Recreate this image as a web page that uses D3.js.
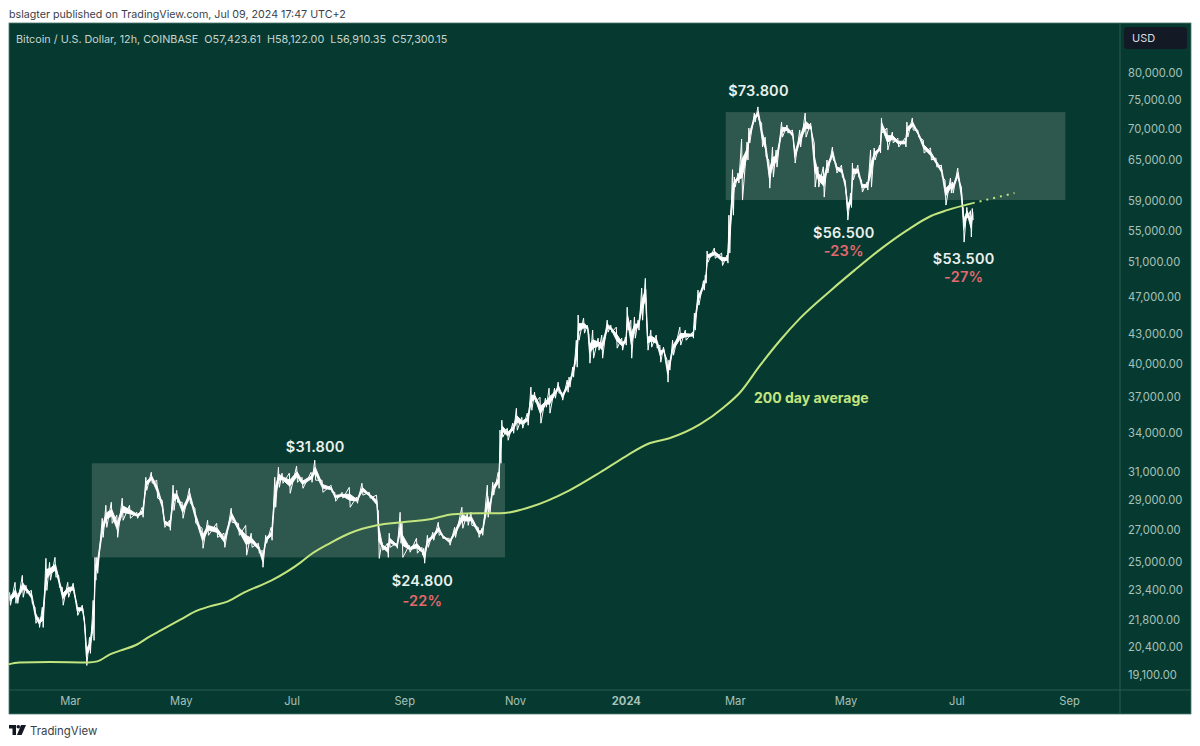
<!DOCTYPE html>
<html>
<head>
<meta charset="utf-8">
<script src="https://cdn.jsdelivr.net/npm/d3@7"></script>
<style>
  html, body { margin: 0; padding: 0; background: #fff; }
  svg { display: block; font-family: Inter, "Liberation Sans", sans-serif; }
</style>
</head>
<body>
<script>
// [days since 1 Mar 2023, low, high]
var btc = [
[-33,22550,23250],[-30,22650,23810],[-29,22650,23200],[-26,22980,24210],[-24,23200,23640],[-21,22650,23360],
[-19,21600,22440],[-17,21390,21900],[-15,21390,22440],[-13,23360,25210],[-11,23930,24970],[-8,24100,25270],
[-6,23530,24210],[-4,22550,23530],[-1,22980,23810],[2,23200,23760],[4,22010,22650],[7,22120,22550],
[8,21390,21900],[9,19540,20740],[11,20110,20890],[13,20740,22810],[14,23930,25270],[15,24330,25270],
[18,26500,27730],[20,27140,28600],[23,27400,28810],[26,26500,27930],[29,27600,29090],[33,27730,28600],
[37,27730,28130],[40,27800,28470],[42,29640,30570],[45,30140,30940],[48,29090,30360],[51,28060,28950],
[52,27140,27800],[55,26950,27600],[57,28260,30000],[59,28810,29640],[62,27730,28810],[66,28740,29780],
[69,27400,28400],[73,25820,27080],[76,26630,27600],[81,26500,27400],[85,25880,26760],[89,27470,28400],
[93,26630,27400],[97,25400,27270],[100,25880,26760],[104,25520,26130],[106,24680,25700],[108,26130,26630],
[111,26320,27140],[113,28470,30570],[115,29850,31310],[117,30140,30870],[121,29430,30870],[125,30210,31390],
[128,29780,30570],[133,30210,30940],[135,30360,31840],[139,29500,30360],[144,29500,30000],[146,28880,29500],
[150,29090,29500],[154,28470,29850],[158,28740,29160],[161,29300,30140],[165,29090,29500],[169,28260,29300],
[170,25210,28260],[172,25700,26190],[175,25270,26130],[176,25880,26760],[180,25820,26130],[182,26130,28130],
[183,25270,27400],[187,25580,26010],[191,25520,26440],[194,25400,25880],[195,24920,25820],[197,25880,26630],
[200,26320,26820],[203,26630,27470],[205,26440,26760],[209,26010,26440],[212,26500,27140],[216,27080,28470],
[219,27270,28060],[221,27270,28130],[225,26500,27140],[227,26630,27080],[230,27800,30000],[231,28060,28810],
[233,29300,30210],[236,29780,30940],[237,31610,34200],[238,33630,35020],[241,33390,34360],[244,33950,34770],
[246,34200,36030],[249,34360,35260],[252,34600,35610],[254,35860,37890],[256,36550,37430],[259,34770,36990],
[262,36120,36900],[264,35610,37790],[267,36900,37790],[269,37340,38340],[271,36730,37430],[274,37430,38520],
[275,37880,38800],[277,38800,39730],[279,39730,42360],[280,42360,44980],[283,43080,44660],[285,43390,43900],
[286,40110,42880],[288,40590,43390],[291,41370,42570],[293,40590,42880],[296,43180,44430],[298,43180,43900],
[301,41570,43700],[304,41370,42570],[306,41870,42670],[307,43390,45820],[309,40590,44430],[311,42570,44770],
[313,43390,44430],[315,44430,47950],[317,45400,49080],[318,41370,43390],[320,41670,43390],[323,41570,42880],
[325,40200,41870],[327,41080,41670],[329,38340,40400],[330,39450,40400],[332,40880,42360],[336,41870,43700],
[339,42360,43390],[343,42570,43180],[344,43390,45180],[346,46050,47720],[349,47720,48810],[350,48520,49450],
[351,51000,52380],[355,51480,52750],[359,50600,52120],[362,50890,51880],[363,52120,57040],[365,57040,63560],
[366,60980,62450],[368,61570,63050],[370,59130,68360],[373,65040,67880],[374,67720,70180],[377,71190,72730],
[379,71530,73800],[381,67080,71020],[383,65500,68680],[385,60830,65040],[387,62450,67080],[389,63950,66600],
[392,68680,71190],[395,69350,70680],[398,68200,69840],[399,64570,67080],[402,67080,69840],[405,68680,72730],
[408,69520,71020],[410,60980,67720],[412,60980,64000],[415,59550,64000],[417,63050,65040],[420,65040,67080],
[422,63050,64570],[425,62450,64260],[427,60120,62010],[428,56380,59550],[430,58100,60120],[431,62010,64570],
[434,62450,64260],[436,60260,62010],[439,60550,61720],[441,60980,66600],[443,65040,66920],[446,66130,67400],
[447,69350,71880],[450,66600,70180],[453,67720,69520],[456,67080,68520],[460,67080,68520],[461,68680,71190],
[464,69840,71880],[467,68680,69840],[470,66130,68200],[474,65040,66920],[477,63950,65350],[480,62450,64260],
[482,58430,62010],[485,60120,62300],[486,60120,61720],[489,62010,63800],[491,58100,60980],[492,53500,58100],
[494,56650,58100],[496,54150,57650],[497,56380,57950]
];

// 200 day average, [days since 1 Mar 2023, price]
var ma200 = [
[-34,19590],[-28,19680],[-11,19700],[10,19680],[15,19730],[22,20060],[28,20250],[36,20500],[44,20940],[50,21240],
[61,21800],[69,22220],[77,22490],[87,22760],[96,23250],[111,23920],[127,24970],[132,25400],[143,26130],[154,26760],
[169,27270],[183,27470],[198,27670],[211,28000],[224,28060],[237,28060],[253,28470],[275,29640],[292,30940],
[306,32140],[319,33150],[330,33550],[347,34690],[360,36120],[369,37430],[380,39920],[391,42360],[402,44650],
[419,47720],[432,50050],[447,52740],[461,55050],[474,56930],[483,57730],[497,58700]
];
var maProjection = [[497,58700],[520,60120]];

var boxes = [
  {from: 12, to: 239.5, low: 25270, high: 31610},
  {from: 361, to: 548, low: 59130, high: 72900}
];

var notes = [
  {d: 379, y: 91, text: "$73.800", color: "#e9f0ed"},
  {d: 135, y: 447, text: "$31.800", color: "#e9f0ed"},
  {d: 194, y: 581, text: "$24.800", color: "#e9f0ed"},
  {d: 194, y: 601, text: "-22%", color: "#e4686e"},
  {d: 426, y: 233, text: "$56.500", color: "#e9f0ed"},
  {d: 426, y: 251, text: "-23%", color: "#e4686e"},
  {d: 492, y: 259, text: "$53.500", color: "#e9f0ed"},
  {d: 492, y: 277, text: "-27%", color: "#e4686e"}
];

var yTicks = [80000,75000,70000,65000,59000,55000,51000,47000,43000,40000,37000,34000,31000,29000,27000,25000,23400,21800,20400,19100];
var start = new Date(Date.UTC(2023, 2, 1));
function day(d) { return new Date(start.getTime() + d * 864e5); }

var width = 1200, height = 746;
var panel = {left: 9, right: 1191, top: 23, bottom: 714, axisX: 1120, axisY: 690};

var x = d3.scaleUtc().domain([start, new Date(Date.UTC(2024, 8, 1))]).range([70, 1069]);
var y = d3.scaleLog().domain([80000, 19100]).range([73, 675]);

var svg = d3.select("body").append("svg").attr("width", width).attr("height", height);

svg.append("text").attr("x", 9).attr("y", 18).attr("font-size", 10.7).attr("fill", "#3a3f4a")
  .text("bslagter published on TradingView.com, Jul 09, 2024 17:47 UTC+2");

// panel
svg.append("rect").attr("x", panel.left).attr("y", panel.top)
  .attr("width", panel.right - panel.left).attr("height", panel.bottom - panel.top)
  .attr("fill", "#063a30").attr("stroke", "#4f7a70").attr("stroke-width", 0.8);
svg.append("line").attr("x1", panel.axisX).attr("x2", panel.axisX).attr("y1", panel.top).attr("y2", panel.bottom)
  .attr("stroke", "#2a5a4f");
svg.append("line").attr("x1", panel.left).attr("x2", panel.right).attr("y1", panel.axisY).attr("y2", panel.axisY)
  .attr("stroke", "#2a5a4f");

svg.selectAll("rect.box").data(boxes).enter().append("rect").attr("class", "box")
  .attr("x", function(d) { return x(day(d.from)); })
  .attr("width", function(d) { return x(day(d.to)) - x(day(d.from)); })
  .attr("y", function(d) { return y(d.high); })
  .attr("height", function(d) { return y(d.low) - y(d.high); })
  .attr("fill", "#2e574d");

// price: narrow body through each row, zigzag from high to low for the wicks
function mid(d, t) { return d[1] + (d[2] - d[1]) * t; }
var band = d3.area()
  .x(function(d) { return x(day(d[0])); })
  .y0(function(d) { return y(mid(d, 0.35)); })
  .y1(function(d) { return y(mid(d, 0.65)); });
svg.append("path").datum(btc).attr("d", band).attr("fill", "#fff").attr("stroke", "#fff").attr("stroke-width", 0.9);

var zigzag = [];
btc.forEach(function(d) {
  zigzag.push([d[0] - 0.25, d[2]]);
  zigzag.push([d[0] + 0.25, d[1]]);
});
var zigLine = d3.line()
  .x(function(d) { return x(day(d[0])); })
  .y(function(d) { return y(d[1]); });
svg.append("path").datum(zigzag).attr("d", zigLine).attr("fill", "none").attr("stroke", "#fff")
  .attr("stroke-width", 1).attr("stroke-linejoin", "bevel");

// moving average
var maLine = d3.line()
  .x(function(d) { return x(day(d[0])); })
  .y(function(d) { return y(d[1]); })
  .curve(d3.curveMonotoneX);
svg.append("path").datum(ma200).attr("d", maLine).attr("fill", "none").attr("stroke", "#c3e57f").attr("stroke-width", 2);
svg.append("path").datum(maProjection).attr("d", maLine).attr("fill", "none").attr("stroke", "#c3e57f")
  .attr("stroke-width", 2).attr("stroke-dasharray", "2 5");

// axes
var yAxis = d3.axisRight(y).tickValues(yTicks).tickSize(0).tickPadding(0).tickFormat(d3.format(",.2f"));
var yG = svg.append("g").attr("transform", "translate(1128,0)").call(yAxis);
yG.select(".domain").remove();
yG.selectAll("text").attr("font-size", 11.2).attr("fill", "#a8c2ba").attr("font-family", "Inter");

var months = [[2023,2],[2023,4],[2023,6],[2023,8],[2023,10],[2024,0],[2024,2],[2024,4],[2024,6],[2024,8]]
  .map(function(m) { return new Date(Date.UTC(m[0], m[1], 1)); });
var xAxis = d3.axisBottom(x).tickValues(months).tickSize(0).tickPadding(0).tickFormat(function(d) {
  return d.getUTCMonth() == 0 ? d3.utcFormat("%Y")(d) : d3.utcFormat("%b")(d);
});
var xG = svg.append("g").attr("transform", "translate(0,697)").call(xAxis);
xG.select(".domain").remove();
xG.selectAll("text").attr("font-size", 11.2).attr("fill", "#a8c2ba").attr("font-family", "Inter")
  .attr("font-weight", function(d) { return d.getUTCMonth() == 0 ? 700 : 400; });

// currency button
svg.append("rect").attr("x", 1124).attr("y", 27).attr("width", 63).attr("height", 22).attr("rx", 3).attr("fill", "#131a26");
svg.append("text").attr("x", 1132).attr("y", 42).attr("font-size", 11).attr("fill", "#d8dde2").text("USD");

svg.append("text").attr("x", 16).attr("y", 43).attr("font-size", 10.8).attr("fill", "#c6d4cf")
  .attr("xml:space", "preserve")
  .text("Bitcoin / U.S. Dollar, 12h, COINBASE  O57,423.61  H58,122.00  L56,910.35  C57,300.15");

// annotations
svg.selectAll("text.note").data(notes).enter().append("text").attr("class", "note")
  .attr("x", function(d) { return x(day(d.d)); })
  .attr("y", function(d) { return d.y; })
  .attr("dy", "0.35em").attr("text-anchor", "middle")
  .attr("font-size", 14.5).attr("font-weight", 600).attr("letter-spacing", 0.2)
  .attr("fill", function(d) { return d.color; })
  .text(function(d) { return d.text; });

svg.append("text").attr("x", 754).attr("y", 398).attr("dy", "0.35em")
  .attr("font-size", 14).attr("font-weight", 700).attr("fill", "#c3e57f").text("200 day average");

// logo
var logo = svg.append("g").attr("transform", "translate(9,725)").attr("fill", "#131722");
logo.append("path").attr("d", "M0 0H7V10H3.5V3.5H0Z");
logo.append("circle").attr("cx", 9.3).attr("cy", 1.8).attr("r", 1.8);
logo.append("path").attr("d", "M12 0H17L12.6 10H8Z");
svg.append("text").attr("x", 30).attr("y", 735).attr("font-size", 11.4).attr("fill", "#3a3f4a").text("TradingView");
</script>
</body>
</html>
